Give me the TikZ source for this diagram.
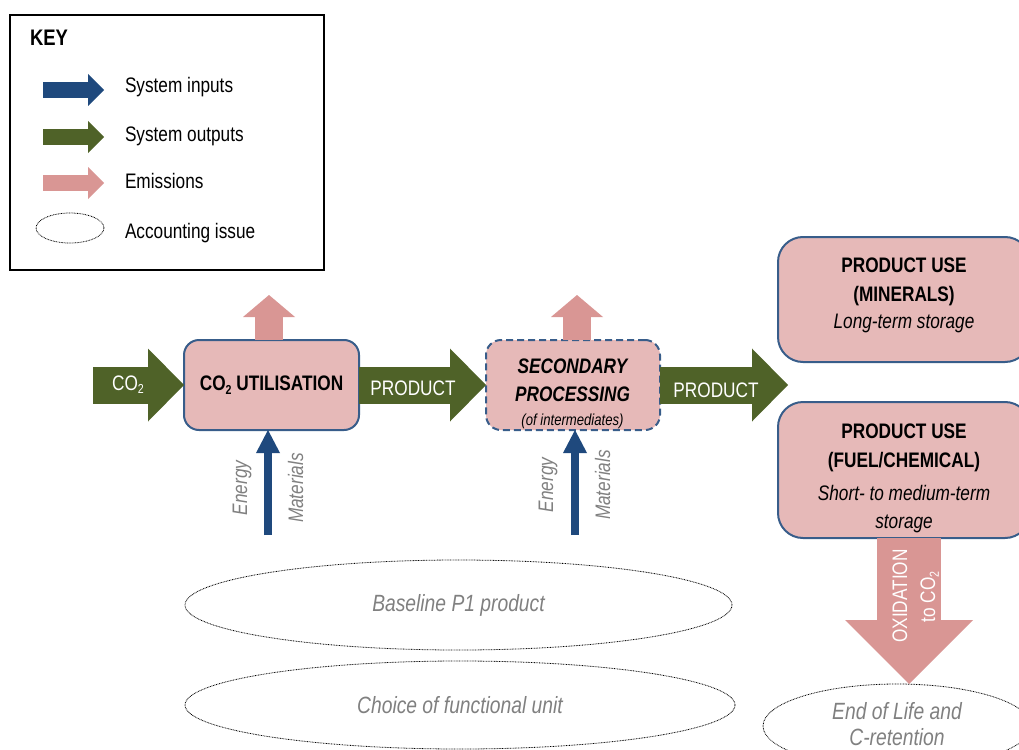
\documentclass[tikz,border=0pt]{standalone}
\usepackage{fontspec}
\setmainfont{Liberation Sans}[FakeStretch=0.82]
\usetikzlibrary{arrows.meta,shapes.geometric}
\definecolor{outgreen}{HTML}{4F6228}
\definecolor{inblue}{HTML}{1F497D}
\definecolor{emis}{HTML}{D99694}
\definecolor{boxfill}{HTML}{E6B9B8}
\definecolor{boxline}{HTML}{385D8A}
\definecolor{issuegray}{HTML}{808080}
\newcommand{\fs}[1]{\fontsize{#1}{#1}\selectfont}
\newcommand{\subtwo}{\raisebox{-0.35ex}{\fs{13}2}}
\begin{document}
\begin{tikzpicture}[x=1pt,y=-1pt,
  every node/.style={inner sep=0pt, outer sep=0pt},
  procbox/.style={draw=boxline, line width=2pt, fill=boxfill, rounded corners=#1},
  outflow/.style={draw=outgreen, line width=37pt, line cap=butt, -{Triangle[length=36pt,width=73pt,line width=0pt]}},
  emisflow/.style={draw=emis, line width=28pt, line cap=butt, -{Triangle[length=22pt,width=52pt,line width=0pt]}},
  inflow/.style={draw=inblue, line width=8pt, line cap=butt, -{Triangle[length=23pt,width=24pt,line width=0pt]}},
  oxflow/.style={draw=emis, line width=64pt, line cap=butt, -{Triangle[length=64pt,width=128pt,line width=0pt]}},
  keyflow/.style={draw=#1, line width=16pt, line cap=butt, -{Triangle[length=16pt,width=32pt,line width=0pt]}},
  issue/.style={ellipse, draw=black, line width=0.8pt, dash pattern=on 0.8pt off 0.8pt},
  issuetext/.style={text=issuegray, font=\fontsize{23.5}{26}\selectfont\itshape, align=center},
  keytext/.style={font=\fs{21}, anchor=base west},
  whitetext/.style={font=\fs{21}, text=white, anchor=base},
  sidelabel/.style={rotate=90, anchor=base, font=\fs{21}\itshape, text=issuegray},
  boxtext/.style={font=\fs{21}, anchor=base}
]
\useasboundingbox (0,0) rectangle (1019,749);
\clip (0,0) rectangle (1019,749);

% ---------- KEY ----------
\node[draw=black, line width=1.2pt, minimum width=314pt, minimum height=255pt] (key) at (167,142.5) {};
\node[font=\fs{22.5}\bfseries, anchor=base west] (keytitle) at (30,45.5) {KEY};
\coordinate (k1) at (43,90);
\coordinate (k2) at (43,137);
\coordinate (k3) at (43,183);
\draw[keyflow=inblue] (k1) -- ++(61,0);
\draw[keyflow=outgreen] (k2) -- ++(61,0);
\draw[keyflow=emis] (k3) -- ++(61,0);
\node[issue, minimum width=68pt, minimum height=30pt] (keyissue) at (70,228) {};
\node[keytext] (l1) at (125,93) {System inputs};
\node[keytext] (l2) at (125,141) {System outputs};
\node[keytext] (l3) at (125,188) {Emissions};
\node[keytext] (l4) at (125,238) {Accounting issue};

% ---------- process boxes ----------
\node[procbox=15pt, minimum width=175pt, minimum height=90pt, font=\fs{21}\bfseries] (util) at (271.5,385) {CO\subtwo{} UTILISATION};
\node[procbox=15pt, dash pattern=on 7pt off 4pt, minimum width=174pt, minimum height=90pt] (sec) at (573,385) {};
\node[boxtext, font=\fs{21}\bfseries\itshape] (sec1) at (572.5,373) {SECONDARY};
\node[boxtext, font=\fs{21}\bfseries\itshape] (sec2) at (572.5,401) {PROCESSING};
\node[boxtext, font=\fs{16}\itshape] (sec3) at (572.5,425) {(of intermediates)};

\node[procbox=25pt, minimum width=252pt, minimum height=125pt] (minerals) at (904,299.5) {};
\node[boxtext, font=\fs{21}\bfseries] (m1) at (904,272) {PRODUCT USE};
\node[boxtext, font=\fs{21}\bfseries] (m2) at (904,301) {(MINERALS)};
\node[boxtext, font=\fs{21}\itshape] (m3) at (904,328) {Long-term storage};

\node[procbox=25pt, minimum width=252pt, minimum height=136pt] (fuel) at (904,470) {};
\node[boxtext, font=\fs{21}\bfseries] (f1) at (904,438) {PRODUCT USE};
\node[boxtext, font=\fs{21}\bfseries] (f2) at (904,467) {(FUEL/CHEMICAL)};
\node[boxtext, font=\fs{21}\itshape] (f3) at (904,500) {Short- to medium-term};
\node[boxtext, font=\fs{21}\itshape] (f4) at (904,528) {storage};

% ---------- flows ----------
\coordinate (co2start) at (93,385);
\draw[outflow] (co2start) -- (util.west);
\node[whitetext] (co2lab) at (128,390) {CO\subtwo};
\draw[outflow] (util.east) -- (sec.west);
\node[whitetext] (prod1) at (413,395) {PRODUCT};
\coordinate (prodend) at (788,385);
\draw[outflow] (sec.east) -- (prodend);
\node[whitetext] (prod2) at (716,397) {PRODUCT};

\draw[emisflow] ([xshift=-2.5pt]util.north) -- ++(0,-45);
\draw[emisflow] ([xshift=4pt]sec.north) -- ++(0,-45);

\coordinate (in1) at (268,535);
\coordinate (in2) at (575,535);
\draw[inflow] (in1) -- (in1 |- util.south);
\draw[inflow] (in2) -- (in2 |- sec.south);
\node[sidelabel] (e1) at (247,488) {Energy};
\node[sidelabel] (ma1) at (303,488) {Materials};
\node[sidelabel] (e2) at (553,485) {Energy};
\node[sidelabel] (ma2) at (610,485) {Materials};

\draw[oxflow] ([xshift=5pt]fuel.south) -- ++(0,146);
\node[whitetext, rotate=90] (ox1) at (907,596) {OXIDATION};
\node[whitetext, rotate=90] (ox2) at (935,597) {to CO\subtwo};

% ---------- accounting issues ----------
\node[issue, issuetext, minimum width=547pt, minimum height=90pt] (baseline) at (458.5,605) {Baseline P1 product};
\node[issue, issuetext, minimum width=550pt, minimum height=88pt] (choice) at (460,705) {Choice of functional unit};
\node[issue, minimum width=268pt, minimum height=84pt] (eol) at (897,726) {};
\node[issuetext] (eoltext) at (897,724) {End of Life and\\C-retention};
\end{tikzpicture}
\end{document}
